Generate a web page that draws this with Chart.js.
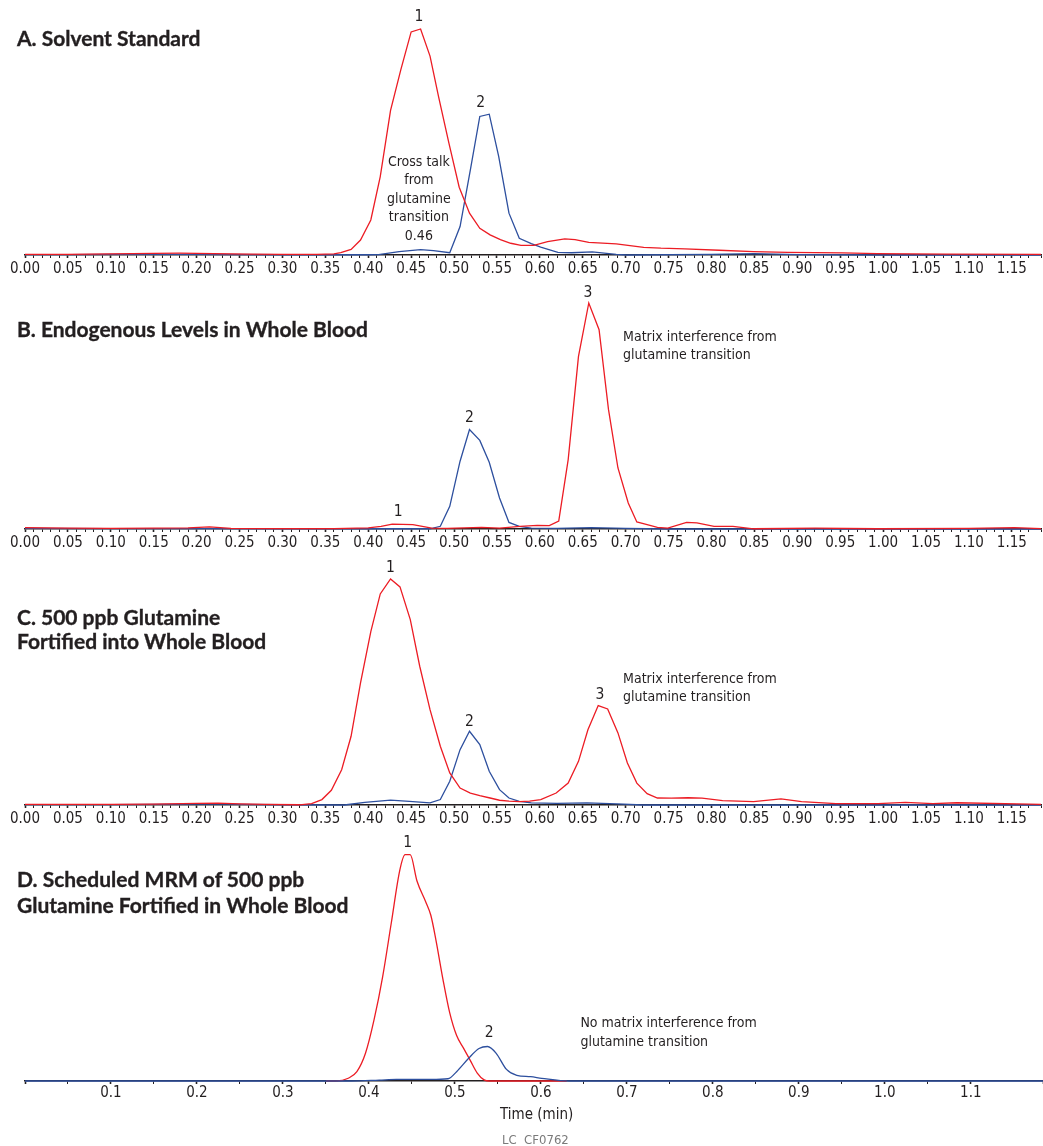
<!DOCTYPE html>
<html><head><meta charset="utf-8">
<script src="https://cdn.jsdelivr.net/npm/chart.js@4.4.1/dist/chart.umd.min.js"></script>
<style>
html,body{margin:0;padding:0;background:#fff;}
body{width:1043px;height:1146px;position:relative;overflow:hidden;}
.pc{position:absolute;left:0;width:1043px;}
.ttl{position:absolute;left:17px;font-family:Lato,'Open Sans',sans-serif;font-weight:700;font-size:21px;color:#231f20;white-space:nowrap;-webkit-text-stroke:0.35px #231f20;}
.cap{position:absolute;font-family:'DejaVu Sans Condensed','DejaVu Sans',sans-serif;color:#231f20;white-space:nowrap;}
</style></head><body>
<div class="pc" style="top:0;height:285px"><canvas id="cA"></canvas></div>
<div class="pc" style="top:280px;height:280px"><canvas id="cB"></canvas></div>
<div class="pc" style="top:550px;height:285px"><canvas id="cC"></canvas></div>
<div class="pc" style="top:830px;height:281px"><canvas id="cD"></canvas></div>
<div class="ttl" style="top:25px;line-height:25px">A. Solvent Standard</div>
<div class="ttl" style="top:316px;line-height:25px">B. Endogenous Levels in Whole Blood</div>
<div class="ttl" style="top:605px;line-height:24px">C. 500 ppb Glutamine<br>Fortified into Whole Blood</div>
<div class="ttl" style="top:866px;line-height:26px">D. Scheduled MRM of 500 ppb<br>Glutamine Fortified in Whole Blood</div>
<div class="cap" style="left:500px;top:1104px;width:64px;text-align:center;font-size:15px;line-height:20px">Time (min)</div>
<div class="cap" style="left:502px;top:1132px;font-size:13px;line-height:16px;color:#7a7a7a">LC&nbsp;&nbsp;CF0762</div>
<script>
// ---- Panel A: Solvent Standard ----
const timeRedA = [0, 0.05, 0.10, 0.15, 0.18, 0.22, 0.26, 0.30, 0.34, 0.360, 0.368, 0.380, 0.391, 0.403, 0.414, 0.426, 0.438, 0.450, 0.461, 0.472, 0.482, 0.494, 0.506, 0.518, 0.530, 0.542, 0.554, 0.566, 0.578, 0.593, 0.609, 0.629, 0.641, 0.657, 0.689, 0.721, 0.741, 0.769, 0.809, 0.849, 0.889, 0.953, 0.993, 1.073, 1.184];
const redA = [0.3, 0.3, 0.5, 0.7, 0.8, 0.6, 0.4, 0.3, 0.3, 0.5, 1.0, 2.5, 6.6, 15.5, 34.7, 64, 82, 98.7, 100, 88, 70, 49.5, 30, 18.5, 11.8, 8.9, 6.8, 5.2, 4.3, 4.3, 5.9, 7.1, 6.8, 5.6, 4.9, 3.4, 3.0, 2.7, 2.1, 1.5, 1.2, 0.9, 0.6, 0.4, 0.3];
const timeBlueA = [0, 0.05, 0.10, 0.20, 0.30, 0.40, 0.412, 0.436, 0.461, 0.476, 0.495, 0.507, 0.519, 0.530, 0.541, 0.552, 0.564, 0.576, 0.590, 0.601, 0.621, 0.637, 0.661, 0.689, 0.701, 0.80, 0.85, 0.90, 1.00, 1.184];
const blueA = [0.2, 0.2, 0.3, 0.3, 0.1, 0.1, 0.2, 1.5, 2.4, 1.9, 1.0, 12.6, 37.7, 61.3, 62.3, 43.6, 18.5, 7.4, 5.0, 3.5, 1.2, 1.0, 1.4, 0.3, 0.0, 0.3, 0.6, 0.2, 0.0, 0.0];

// ---- Panel B: Endogenous Levels in Whole Blood ----
const timeRedB = [0, 0.05, 0.10, 0.15, 0.19, 0.215, 0.24, 0.30, 0.36, 0.40, 0.415, 0.428, 0.452, 0.474, 0.492, 0.532, 0.553, 0.577, 0.597, 0.611, 0.622, 0.633, 0.645, 0.657, 0.669, 0.680, 0.691, 0.703, 0.713, 0.725, 0.737, 0.749, 0.771, 0.783, 0.803, 0.825, 0.849, 0.921, 0.993, 1.10, 1.153, 1.184];
const redB = [0.6, 0.4, 0.3, 0.4, 0.5, 0.9, 0.3, 0.2, 0.2, 0.5, 1.2, 2.2, 1.9, 0.4, 0.3, 0.7, 0.4, 1.2, 1.6, 1.5, 3.5, 30.7, 76.4, 100, 88.2, 52.8, 27, 11.5, 3.1, 1.9, 0.7, 0.4, 2.9, 2.7, 1.2, 1.2, 0.1, 0.4, 0.1, 0.3, 0.6, 0.2];
const timeBlueB = [0, 0.10, 0.20, 0.30, 0.40, 0.472, 0.484, 0.495, 0.507, 0.518, 0.530, 0.541, 0.553, 0.564, 0.576, 0.590, 0.62, 0.66, 0.70, 0.75, 1.184];
const blueB = [0.3, 0.2, 0.2, 0.1, 0.1, 0.1, 1.2, 10, 30, 44, 39.2, 29.5, 13.7, 2.9, 1.2, 0.4, 0.3, 0.6, 0.3, 0.0, 0.0];

// ---- Panel C: 500 ppb Glutamine Fortified into Whole Blood ----
const timeRedC = [0, 0.05, 0.10, 0.15, 0.20, 0.225, 0.25, 0.28, 0.320, 0.334, 0.346, 0.357, 0.369, 0.380, 0.391, 0.403, 0.414, 0.426, 0.437, 0.449, 0.460, 0.472, 0.484, 0.495, 0.507, 0.519, 0.530, 0.542, 0.553, 0.564, 0.576, 0.588, 0.601, 0.619, 0.633, 0.645, 0.656, 0.668, 0.679, 0.691, 0.702, 0.713, 0.725, 0.737, 0.753, 0.773, 0.789, 0.813, 0.849, 0.881, 0.905, 0.945, 0.994, 1.026, 1.058, 1.086, 1.170, 1.184];
const redC = [0.3, 0.3, 0.3, 0.4, 0.7, 0.8, 0.5, 0.3, 0.1, 0.6, 2.4, 6.5, 15.6, 30.4, 54, 76.7, 93.4, 100, 96.5, 82, 61.4, 42.2, 26, 14.2, 7.5, 5.3, 4.1, 3.1, 2.1, 1.7, 1.5, 1.7, 2.4, 5.3, 9.7, 19.3, 33.3, 44, 42.5, 31.9, 18.6, 9.7, 5.0, 3.1, 3.0, 3.2, 3.0, 1.9, 1.5, 2.7, 1.5, 0.6, 0.6, 1.2, 0.6, 1.0, 0.4, 0.3];
const timeBlueC = [0, 0.10, 0.20, 0.225, 0.25, 0.30, 0.372, 0.396, 0.426, 0.448, 0.472, 0.484, 0.495, 0.507, 0.518, 0.530, 0.541, 0.553, 0.564, 0.576, 0.590, 0.62, 0.655, 0.69, 0.72, 1.184];
const blueC = [0.2, 0.2, 0.4, 0.5, 0.3, 0.1, 0.0, 1.2, 2.2, 1.6, 0.9, 2.4, 10.5, 24.5, 32.6, 26.7, 14.9, 6.8, 3.1, 1.6, 0.9, 0.7, 0.9, 0.5, 0.0, 0.0];

// ---- Panel D: Scheduled MRM ----
const timeRedD = [0.35, 0.362, 0.376, 0.386, 0.396, 0.406, 0.416, 0.426, 0.436, 0.442, 0.448, 0.456, 0.466, 0.472, 0.478, 0.486, 0.494, 0.502, 0.510, 0.518, 0.526, 0.534, 0.540, 0.63];
const redD = [0, 0, 1.2, 4.1, 12.2, 27, 46, 69.6, 93, 99.7, 99.7, 88, 79, 73, 62, 45, 30, 20, 14.5, 9, 3.5, 0.5, 0, 0];
const timeBlueD = [0, 0.38, 0.412, 0.432, 0.472, 0.492, 0.502, 0.516, 0.528, 0.538, 0.548, 0.560, 0.572, 0.588, 0.601, 0.633, 1.184];
const blueD = [0, 0, 0.4, 0.7, 0.7, 1.0, 4.1, 10, 14.3, 15.2, 12.2, 5.1, 2.5, 1.9, 1.2, 0, 0];

// ---- Tick labels ----
const tickLabelsTop = ['0.00','0.05','0.10','0.15','0.20','0.25','0.30','0.35','0.40','0.45','0.50','0.55','0.60','0.65','0.70','0.75','0.80','0.85','0.90','0.95','1.00','1.05','1.10','1.15'];
const tickLabelsD = ['0.1','0.2','0.3','0.4','0.5','0.6','0.7','0.8','0.9','1.0','1.1'];

// ---- Annotations (data coordinates: time, relative intensity) ----
const annotA = [
  {t:0.459, v:105.3, lines:['1'], align:'center'},
  {t:0.531, v:67.3, lines:['2'], align:'center'},
  {t:0.459, v:41.2, lines:['Cross talk','from','glutamine','transition','0.46'], align:'center'}
];
const annotB = [
  {t:0.435, v:7.5, lines:['1'], align:'center'},
  {t:0.518, v:49, lines:['2'], align:'center'},
  {t:0.656, v:104.4, lines:['3'], align:'center'},
  {t:0.697, v:85, lines:['Matrix interference from','glutamine transition'], align:'left'}
];
const annotC = [
  {t:0.426, v:104.9, lines:['1'], align:'center'},
  {t:0.518, v:36.7, lines:['2'], align:'center'},
  {t:0.670, v:48.7, lines:['3'], align:'center'},
  {t:0.697, v:55.8, lines:['Matrix interference from','glutamine transition'], align:'left'}
];
const annotD = [
  {t:0.445, v:104.9, lines:['1'], align:'center'},
  {t:0.540, v:21.2, lines:['2'], align:'center'},
  {t:0.646, v:25.2, lines:['No matrix interference from','glutamine transition'], align:'left'}
];

const RED = '#ec1c24', BLUE = '#2d4f9e', INK = '#231f20';
const FONT = "'DejaVu Sans Condensed','DejaVu Sans',sans-serif";

function zip(t, v) { return t.map((x, i) => ({x: x, y: v[i]})); }

const annotPlugin = {
  id: 'annot',
  afterDatasetsDraw(chart, args, opts) {
    const ctx = chart.ctx, xs = chart.scales.x, ys = chart.scales.y;
    ctx.save();
    ctx.fillStyle = INK;
    ctx.textBaseline = 'middle';
    (opts.items || []).forEach(a => {
      const px = xs.getPixelForValue(a.t), py = ys.getPixelForValue(a.v);
      const single = a.lines.length === 1 && a.lines[0].length <= 2;
      ctx.font = (single ? '15.5px ' : '14px ') + FONT;
      ctx.textAlign = a.align;
      a.lines.forEach((s, i) => ctx.fillText(s, px, py + i * 18.5));
    });
    ctx.restore();
  }
};

function makeChart(id, series, annots, cfg) {
  const datasets = series.map(s => ({
    data: s.data, borderColor: s.color, borderWidth: 1.3, pointRadius: 0,
    fill: false, clip: false, tension: cfg.smooth ? 0.4 : 0,
    cubicInterpolationMode: cfg.smooth ? 'monotone' : 'default'
  }));
  return new Chart(document.getElementById(id), {
    type: 'line',
    data: { datasets: datasets },
    options: {
      responsive: true, maintainAspectRatio: false, animation: false,
      layout: { padding: { left: 25, right: 0, top: cfg.padTop, bottom: 0 } },
      plugins: { legend: { display: false }, tooltip: { enabled: false }, annot: { items: annots } },
      scales: {
        x: {
          type: 'linear', min: 0, max: 1.184,
          afterFit: s => { s.height = cfg.xh; },
          border: { display: true, color: INK, width: 1.5 },
          grid: { drawOnChartArea: false, drawTicks: true, tickLength: 3, tickColor: INK,
                  tickWidth: c => cfg.isMajor(c.tick ? c.tick.value : 0) ? 1.6 : 1 },
          ticks: { stepSize: cfg.step, autoSkip: false, maxRotation: 0, minRotation: 0,
                   padding: cfg.tickPad, color: INK, font: { family: FONT, size: 15 },
                   callback: cfg.label }
        },
        y: { display: false, min: 0, max: 100 }
      }
    },
    plugins: [annotPlugin]
  });
}

const topCfg = (padTop, xh) => ({
  padTop: padTop, xh: xh, step: 0.01, tickPad: 2, smooth: false,
  isMajor: v => Math.round(v * 100) % 5 === 0,
  label: v => { const k = Math.round(v * 100); return (k % 5 === 0 && tickLabelsTop[k / 5]) ? tickLabelsTop[k / 5] : ''; }
});

makeChart('cA', [{data: zip(timeRedA, redA), color: RED}, {data: zip(timeBlueA, blueA), color: BLUE}], annotA, topCfg(29, 30));
makeChart('cB', [{data: zip(timeRedB, redB), color: RED}, {data: zip(timeBlueB, blueB), color: BLUE}], annotB, topCfg(23, 31));
makeChart('cC', [{data: zip(timeRedC, redC), color: RED}, {data: zip(timeBlueC, blueC), color: BLUE}], annotC, topCfg(29, 30));
makeChart('cD', [{data: zip(timeBlueD, blueD), color: BLUE}, {data: zip(timeRedD, redD), color: RED}], annotD, {
  padTop: 24, xh: 30, step: 0.05, tickPad: 0, smooth: true,
  isMajor: v => Math.round(v * 20) % 2 === 0,
  label: v => { const k = Math.round(v * 20); return (k % 2 === 0 && k > 0 && tickLabelsD[k / 2 - 1]) ? tickLabelsD[k / 2 - 1] : ''; }
});
</script>
</body></html>
